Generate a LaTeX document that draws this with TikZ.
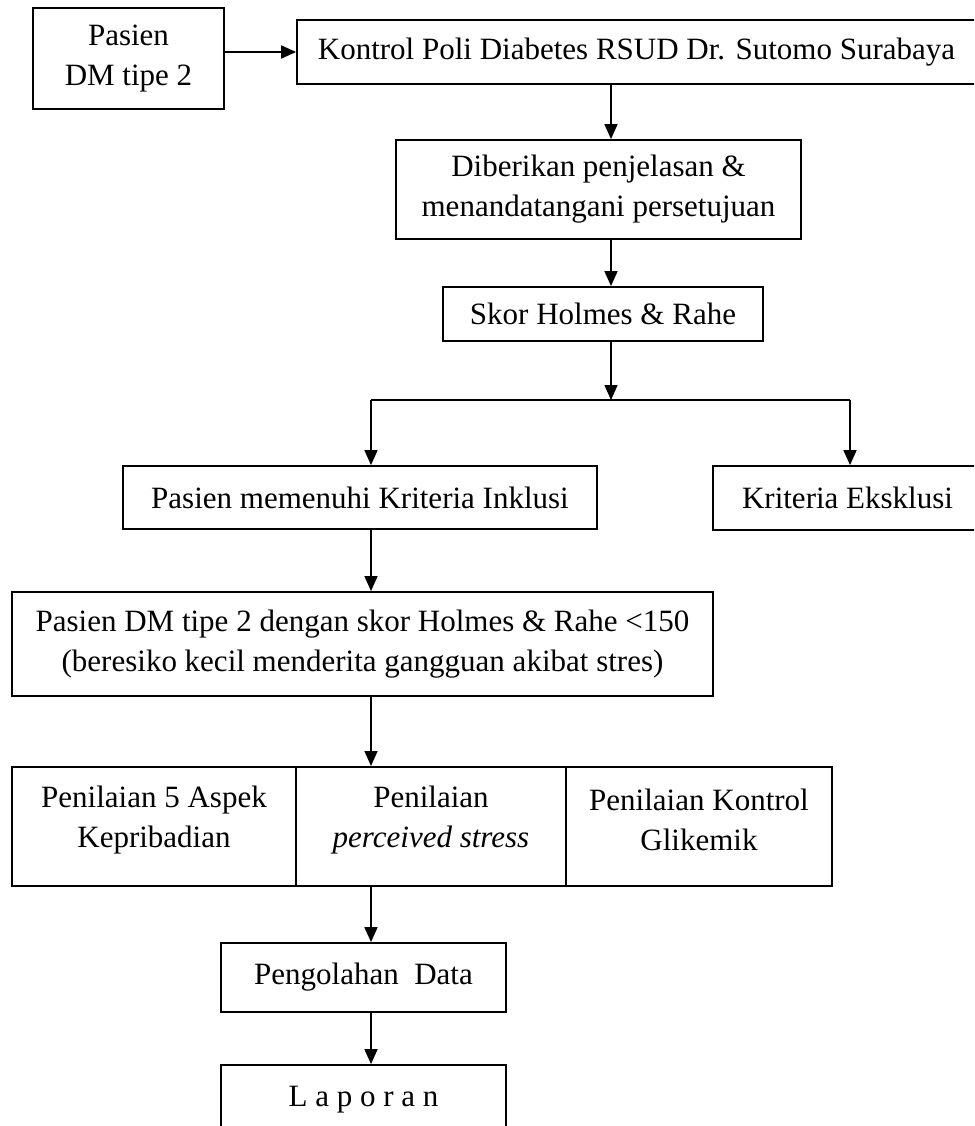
\documentclass[tikz,border=0pt]{standalone}
\usepackage{fontspec}
\setmainfont{Liberation Serif}
\usepackage{tikz}
\usetikzlibrary{arrows.meta}

\begin{document}
\begin{tikzpicture}[x=1pt,y=-1pt,
	kotak/.style={shape=rectangle,draw=black,line width=1.8pt,align=center,inner sep=0pt,font=\fontsize{31}{40}\selectfont},
	teks/.style={align=center,inner sep=0pt,font=\fontsize{31}{40}\selectfont},
	panah/.style={-{Triangle[length=15pt,width=13pt]},line width=1.6pt},
	garis/.style={-,line width=1.6pt}]

	\useasboundingbox (0,0) rectangle (974,1126);
	\clip (0,0) rectangle (974,1126);

	\node[kotak,minimum width=191pt,minimum height=101pt] (pasien) at (128.5,58.5) {Pasien\\DM tipe 2};
	\node[kotak,minimum width=703pt,minimum height=64pt,
		label={[teks,xshift=-12pt]center:Kontrol Poli Diabetes RSUD Dr. Sutomo Surabaya}] (kontrol) at (648.5,52) {};
	\node[kotak,minimum width=405pt,minimum height=99pt] (diberikan) at (598.5,189.5) {Diberikan penjelasan \&\\menandatangani persetujuan};
	\node[kotak,minimum width=320pt,minimum height=54pt] (skor) at (603,314) {Skor Holmes \& Rahe};
	\node[kotak,minimum width=474pt,minimum height=63pt] (inklusi) at (360,497.5) {Pasien memenuhi Kriteria Inklusi};
	\node[kotak,minimum width=287pt,minimum height=64pt,
		label={[teks,xshift=-9pt]center:Kriteria Eksklusi}] (eksklusi) at (856.5,498) {};
	\node[kotak,minimum width=701pt,minimum height=104pt] (pasiendm) at (362.5,644) {Pasien DM tipe 2 dengan skor Holmes \& Rahe <150\\(beresiko kecil menderita gangguan akibat stres)};
	\node[kotak,minimum width=284pt,minimum height=119pt,line width=2pt,
		label={[teks,yshift=6.5pt]center:Penilaian 5 Aspek\\Kepribadian}] (aspek) at (154,826.5) {};
	\node[kotak,minimum width=270pt,minimum height=119pt,line width=2pt,
		label={[teks,yshift=6.5pt]center:Penilaian\\\textit{perceived stress}}] (stres) at (431,826.5) {};
	\node[kotak,minimum width=266pt,minimum height=119pt,line width=2pt,
		label={[teks,yshift=6.5pt]center:Penilaian Kontrol\\Glikemik}] (glikemik) at (699,826.5) {};
	\node[kotak,minimum width=285pt,minimum height=69pt] (pengolahan) at (363.5,977.5) {Pengolahan\ \ Data};
	\node[kotak,minimum width=285pt,minimum height=69pt] (laporan) at (363.5,1099.5) {L a p o r a n};

	\coordinate (tengah) at (611,400);
	\coordinate (kiri) at (371,400);
	\coordinate (kanan) at (850,400);

	\path[panah] (pasien.east |- kontrol) edge (kontrol.west);
	\path[panah] (kontrol.south -| tengah) edge (diberikan.north -| tengah);
	\path[panah] (diberikan.south -| tengah) edge (skor.north -| tengah);
	\path[panah] (skor.south -| tengah) edge (tengah);
	\path[garis] (kiri) edge (kanan);
	\path[panah] (kiri) edge (inklusi.north -| kiri);
	\path[panah] (kanan) edge (eksklusi.north -| kanan);
	\path[panah] (inklusi.south -| kiri) edge (pasiendm.north -| kiri);
	\path[panah] (pasiendm.south -| kiri) edge (stres.north -| kiri);
	\path[panah] (stres.south -| kiri) edge (pengolahan.north -| kiri);
	\path[panah] (pengolahan.south -| kiri) edge (laporan.north -| kiri);
\end{tikzpicture}
\end{document}
